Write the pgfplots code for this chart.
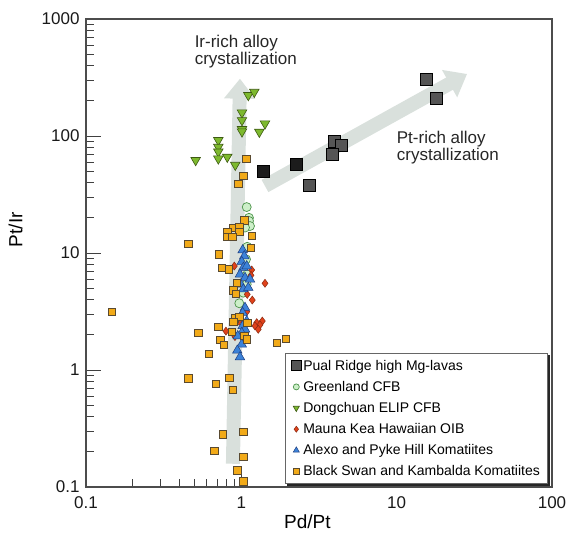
\documentclass[border=0pt]{standalone}
\usepackage{fontspec}
\setmainfont{Liberation Sans}
\usepackage{pgfplots}
\pgfplotsset{compat=1.18}
\usetikzlibrary{arrows.meta,shadows}
\definecolor{arrowgray}{HTML}{D9E0DC}
\definecolor{pualfill}{HTML}{555555}
\definecolor{pualdark}{HTML}{1C1C1C}
\definecolor{grfill}{HTML}{CDEFC9}
\definecolor{gredge}{HTML}{4C944A}
\definecolor{dcfill}{HTML}{7DB92E}
\definecolor{dcedge}{HTML}{3D5A12}
\definecolor{mkfill}{HTML}{E0421B}
\definecolor{mkedge}{HTML}{8A2A10}
\definecolor{alfill}{HTML}{3C82D8}
\definecolor{aledge}{HTML}{1F3F80}
\definecolor{bsfill}{HTML}{F2AA18}
\definecolor{bsedge}{HTML}{5A4A30}
\pgfplotsset{
  smallleg/.style={legend image code/.code={\draw[mark repeat=2,mark phase=2,##1,mark size=#1] plot coordinates {(0pt,0pt) (5pt,0pt) (10pt,0pt)};}},
}
\begin{document}
\begin{tikzpicture}
\begin{axis}[
  xmode=log, ymode=log,
  scale only axis, width=466pt, height=468pt,
  xmin=0.1, xmax=100, ymin=0.1, ymax=1000,
  log ticks with fixed point,
  /pgf/number format/assume math mode=true,
  /pgf/number format/1000 sep={},
  tick pos=left,
  major tick length=15pt, minor tick length=8pt,
  tick style={black!75, line width=0.9pt},
  axis line style={black!70, line width=1.1pt},
  ticklabel style={font=\fontsize{17}{20}\selectfont, text=black!90},
  xticklabel style={yshift=-6pt},
  yticklabel style={xshift=-3pt},
  xlabel={Pd/Pt}, ylabel={Pt/Ir},
  every axis x label/.style={at={(rel axis cs:0.475,0)}, anchor=north, yshift=-24pt, font=\fontsize{19}{22}\selectfont},
  every axis y label/.style={at={([xshift=-81pt]rel axis cs:0,0.55)}, rotate=90, anchor=north, font=\fontsize{19}{22}\selectfont},
  legend style={at={(0.992,0.006)}, anchor=south east, draw=black!60, line width=0.8pt, fill=white,
    font=\fontsize{14}{16}\selectfont, inner xsep=6pt, inner ysep=4.5pt, row sep=5.5pt,
    drop shadow={shadow xshift=2pt, shadow yshift=-2pt, opacity=1, fill=black!85}},
  legend cell align=left,
]
\draw[line width=14pt, color=arrowgray, -{Triangle[length=20pt,width=30pt]}] (axis cs:0.883,0.158) -- (axis cs:0.98,309);
\draw[line width=14pt, color=arrowgray, -{Triangle[length=20pt,width=30pt]}] (axis cs:1.42,37.4) -- (axis cs:28.4,339);
\node[anchor=west, align=left, font=\fontsize{17}{13}\selectfont, inner sep=0pt, text=black!85] at (axis cs:0.5,523) {Ir-rich alloy\\crystallization};
\node[anchor=west, align=left, font=\fontsize{17}{13}\selectfont, inner sep=0pt, text=black!85] at (axis cs:10,79) {Pt-rich alloy\\crystallization};

\addplot[only marks, mark=square*, mark size=6pt, mark options={fill=pualfill, draw=black, line width=0.6pt}, smallleg=5pt] coordinates {
 (2.74,38.1) (3.97,89.4) (4.43,83.8) (3.87,69.7) (15.6,303) (18.1,210)
};
\addlegendentry{Pual Ridge high Mg-lavas}
\addplot[only marks, mark=square*, mark size=6pt, mark options={fill=pualdark, draw=black, line width=0.6pt}, forget plot] coordinates {
 (1.385,49.5) (2.25,57.3)
};
\addplot[only marks, mark=*, mark size=4.5pt, mark options={fill=grfill, draw=gredge, line width=0.7pt}, smallleg=3pt] coordinates {
 (1.083,24.7) (1.120,20.0) (1.120,18.8) (1.137,17.0) (1.056,16.5) (1.092,11.3) (1.072,8.84) (1.092,6.58) (1.083,5.40) (1.030,4.58) (0.970,3.72)
};
\addlegendentry{Greenland CFB}
\addplot[only marks, mark=triangle*, mark size=5.5pt, mark options={rotate=180, fill=dcfill, draw=dcedge, line width=0.6pt}, smallleg=3.5pt] coordinates {
 (1.109,222.8) (1.212,237.7) (1.010,158.2) (1.010,136.2) (1.010,114.1) (1.010,108.9) (1.420,127.4) (1.306,108.2) (0.711,91.9) (0.711,80.5) (0.711,73.4) (0.711,64.0) (0.812,66.2) (0.508,62.0) (0.914,56.5)
};
\addlegendentry{Dongchuan ELIP CFB}
\addplot[only marks, mark=diamond*, mark size=4pt, mark options={fill=mkfill, draw=mkedge, line width=0.5pt}, smallleg=3pt] coordinates {
 (0.901,7.74) (1.166,7.16) (1.154,6.45) (1.420,5.51) (1.092,4.43) (1.176,3.96) (1.083,3.15) (0.966,2.62) (1.256,2.54) (1.365,2.62) (1.319,2.43) (1.224,2.38) (1.285,2.23) (0.796,2.15) (0.91,1.93)
};
\addlegendentry{Mauna Kea Hawaiian OIB}
\addplot[only marks, mark=triangle*, mark size=5.5pt, mark options={fill=alfill, draw=aledge, line width=0.5pt}, smallleg=3.5pt] coordinates {
 (1.020,10.6) (1.045,9.42) (1.006,8.43) (1.030,7.49) (1.083,7.74) (0.980,6.58) (1.056,6.15) (1.137,5.96) (0.991,5.40) (1.030,4.90) (1.109,5.05) (1.056,3.41) (1.020,3.09) (0.980,2.77) (1.083,2.62) (1.020,2.38) (1.056,2.23) (1.006,2.08) (0.948,1.95) (1.006,1.66) (0.942,1.47) (0.980,1.29)
};
\addlegendentry{Alexo and Pyke Hill Komatiites}
\addplot[only marks, mark=square*, mark size=3.6pt, mark options={fill=bsfill, draw=bsedge, line width=0.6pt}, smallleg=3pt] coordinates {
 (1.077,64.0) (1.030,45.5) (0.956,39.1) (1.045,19.0) (0.880,16.5) (0.812,15.2) (0.970,16.8) (0.970,15.2) (0.812,13.8) (0.875,13.8) (1.166,14.0)
 (0.456,11.9) (0.718,9.75) (1.154,11.1) (0.748,7.49) (0.833,7.26) (0.933,5.57) (0.888,4.80) (0.924,4.49) (0.91,2.77) (0.970,2.84)
 (0.888,2.57) (1.092,2.54) (0.711,2.34) (0.866,2.12) (1.045,1.95) (0.528,2.07) (1.083,1.83) (0.732,1.82) (0.773,1.63) (1.690,1.71)
 (1.940,1.85) (0.617,1.38) (0.456,0.849) (0.684,0.764) (0.837,0.859) (0.880,0.675) (0.759,0.282) (1.030,0.297) (0.670,0.203)
 (1.030,0.180) (0.942,0.139) (1.030,0.112) (0.147,3.13)
};
\addlegendentry{Black Swan and Kambalda Komatiites}
\end{axis}
\pgfresetboundingbox
\path[use as bounding box] ([shift={(-86pt,-45pt)}]current axis.south west) rectangle ([shift={(22pt,19pt)}]current axis.north east);
\end{tikzpicture}
\end{document}
